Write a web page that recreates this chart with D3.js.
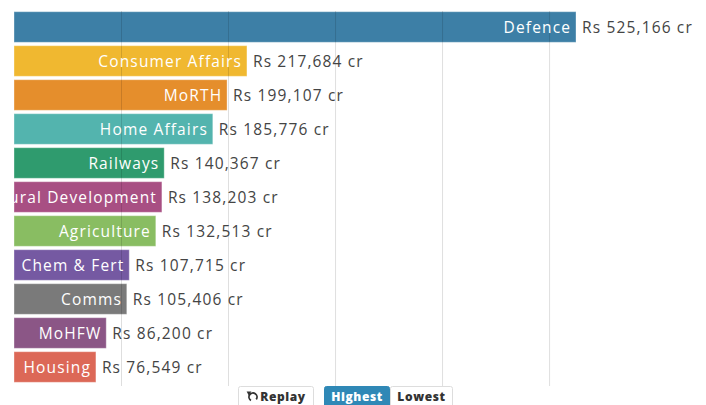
<!DOCTYPE html>
<html>
<head>
<meta charset="utf-8">
<script src="https://cdn.jsdelivr.net/npm/d3@7"></script>
<style>
  html, body { margin: 0; padding: 0; background: #fff; }
  svg { display: block; }
</style>
</head>
<body>
<script>
// Ministry allocations, in Rs crore
const ministries = ["Defence", "Consumer Affairs", "MoRTH", "Home Affairs", "Railways",
  "Rural Development", "Agriculture", "Chem & Fert", "Comms", "MoHFW", "Housing"];
const allocations = [525166, 217684, 199107, 185776, 140367, 138203, 132513, 107715, 105406, 86200, 76549];
const barColors = ["#3d7fa6", "#f0b830", "#e58e2c", "#53b4ae", "#2f9b6e", "#a84f83",
  "#89bd62", "#7559a2", "#7a7a7a", "#8b5686", "#dc6857"];
const gridTicks = [100000, 200000, 300000, 400000, 500000];
const buttonLabels = ["Replay", "Highest", "Lowest"];

const W = 706, H = 405;
const left = 14;
const FONT = "'Open Sans', sans-serif";
const LS = 1.15;

const rows = ministries.map((name, i) => ({ name, value: allocations[i], color: barColors[i] }));

const svg = d3.select("body").append("svg").attr("width", W).attr("height", H);

const x = d3.scaleLinear().domain([0, d3.max(allocations)]).range([left, 576]);
const y = d3.scaleBand().domain(ministries).range([10, 384]).paddingInner(0.1).paddingOuter(0.05);

svg.append("defs").append("clipPath").attr("id", "plot-clip")
  .append("rect").attr("x", left).attr("y", 0).attr("width", W - left).attr("height", H);

const fmt = d3.format(",");

// bars
svg.append("g").selectAll("rect").data(rows).join("rect")
  .attr("x", x(0))
  .attr("y", d => y(d.name))
  .attr("width", d => x(d.value) - x(0))
  .attr("height", y.bandwidth())
  .attr("fill", d => d.color)
  .attr("stroke", "#fff")
  .attr("stroke-opacity", 0.35)
  .attr("stroke-width", 1);

// vertical gridlines
const grid = svg.append("g")
  .attr("transform", "translate(0,11)")
  .call(d3.axisTop(x).tickValues(gridTicks).tickSize(-375).tickFormat(""));
grid.select(".domain").remove();
grid.selectAll(".tick line").attr("stroke", "#000").attr("stroke-opacity", 0.13);

// names inside bars
svg.append("g").attr("clip-path", "url(#plot-clip)")
  .selectAll("text").data(rows).join("text")
  .attr("x", d => x(d.value) - 6 + LS)
  .attr("y", d => y(d.name) + y.bandwidth() / 2)
  .attr("dy", "0.38em")
  .attr("text-anchor", "end")
  .attr("fill", "#fff")
  .style("font-family", FONT)
  .style("font-size", "15.5px")
  .style("letter-spacing", LS + "px")
  .text(d => d.name);

// value labels
svg.append("g").selectAll("text").data(rows).join("text")
  .attr("x", d => x(d.value) + 6)
  .attr("y", d => y(d.name) + y.bandwidth() / 2)
  .attr("dy", "0.38em")
  .attr("fill", "#444")
  .style("font-family", FONT)
  .style("font-size", "15.5px")
  .style("letter-spacing", LS + "px")
  .text(d => `Rs ${fmt(d.value)} cr`);

// control buttons
const btnY = 386, btnH = 24;
const buttons = [
  { label: buttonLabels[0], x0: 238, x1: 314, fill: "#fff", text: "#333", icon: true },
  { label: buttonLabels[1], x0: 324, x1: 390, fill: "#2f88b6", text: "#fff" },
  { label: buttonLabels[2], x0: 390, x1: 453, fill: "#fff", text: "#333" }
];
const bg = svg.append("g");
bg.selectAll("rect").data(buttons).join("rect")
  .attr("x", d => d.x0 + 0.5).attr("y", btnY + 0.5)
  .attr("width", d => d.x1 - d.x0 - 1).attr("height", btnH)
  .attr("rx", 2)
  .attr("fill", d => d.fill)
  .attr("stroke", d => d.fill === "#fff" ? "#ddd" : d.fill);
bg.selectAll("text").data(buttons).join("text")
  .attr("x", d => d.icon ? (d.x0 + d.x1) / 2 + 7 : (d.x0 + d.x1) / 2)
  .attr("y", 401)
  .attr("text-anchor", "middle")
  .attr("fill", d => d.text)
  .style("font-family", FONT)
  .style("font-size", "12px")
  .style("font-weight", "800")
  .style("letter-spacing", "0.6px")
  .text(d => d.label);

// replay icon: open circular arrow
const ic = bg.append("g").attr("transform", "translate(253,397)");
const r = 4;
const arc = d3.arc().innerRadius(r - 0.9).outerRadius(r + 0.9).startAngle(-2.2).endAngle(2.6);
ic.append("path").attr("d", arc()).attr("fill", "#333").attr("transform", "scale(-1,1)");
ic.append("path").attr("d", "M-6.4,-5.4 L-1.6,-5.4 L-4.2,-1.4 Z").attr("fill", "#333");
</script>
</body>
</html>
